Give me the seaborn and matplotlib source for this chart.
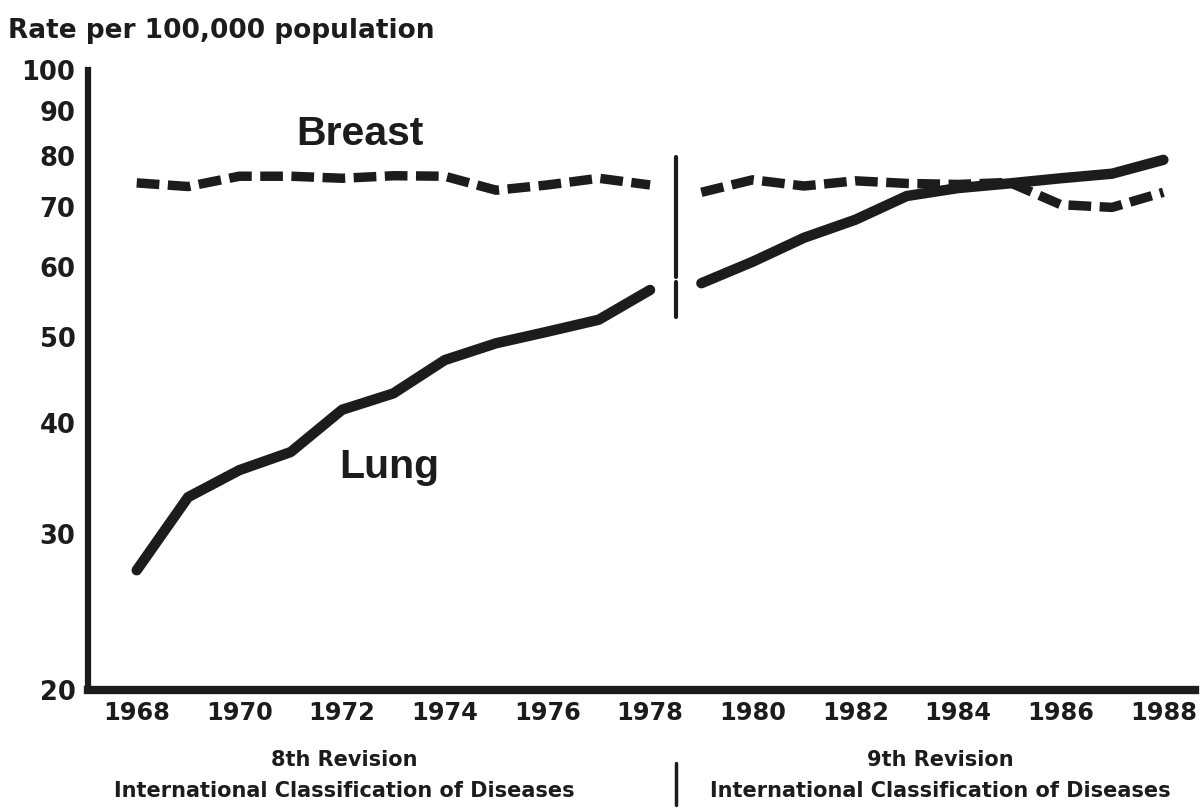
import matplotlib
matplotlib.use('Agg')
import matplotlib.pyplot as plt
import matplotlib.ticker as mticker
import matplotlib.transforms as mtrans
import seaborn as sns

# data
years_8th = [1968, 1969, 1970, 1971, 1972, 1973, 1974, 1975, 1976, 1977, 1978]
years_9th = [1979, 1980, 1981, 1982, 1983, 1984, 1985, 1986, 1987, 1988]

breast_8th = [74.6, 73.9, 75.9, 75.9, 75.5, 76.0, 75.9, 73.2, 74.2, 75.5, 74.2]
breast_9th = [72.8, 75.2, 74.0, 75.0, 74.5, 74.3, 74.7, 70.5, 70.0, 72.8]

lung_8th = [27.3, 33.0, 35.4, 37.1, 41.4, 43.2, 47.1, 49.2, 50.7, 52.3, 56.5]
lung_9th = [57.5, 60.8, 64.7, 67.8, 72.1, 73.6, 74.5, 75.5, 76.4, 79.2]

y_ticks = [20, 30, 40, 50, 60, 70, 80, 90, 100]
x_label_years = [1968, 1970, 1972, 1974, 1976, 1978, 1980, 1982, 1984, 1986, 1988]

ink = '#1c1c1c'

sns.set_style('white')
plt.rcParams['font.family'] = ['DejaVu Sans']
plt.rcParams['font.weight'] = 'bold'

fig = plt.figure(figsize=(12, 8.1), dpi=100)
ax = fig.add_axes([0.0733, 0.148, 0.9227, 0.7656])

for yrs, vals in [(years_8th, breast_8th), (years_9th, breast_9th)]:
    sns.lineplot(x=yrs, y=vals, ax=ax, color=ink, linewidth=6.8,
                 linestyle=(0, (2.4, 0.9)), solid_capstyle='butt')
for yrs, vals in [(years_8th, lung_8th), (years_9th, lung_9th)]:
    sns.lineplot(x=yrs, y=vals, ax=ax, color=ink, linewidth=7.5)

ax.set_yscale('log')
ax.set_ylim(20, 100)
ax.set_xlim(1967.05, 1988.62)
ax.yaxis.set_major_locator(mticker.FixedLocator(y_ticks))
ax.yaxis.set_minor_locator(mticker.NullLocator())
ax.set_yticklabels([str(v) for v in y_ticks])
ax.set_xticks(range(1968, 1989))
ax.set_xticklabels([str(y) if y in x_label_years else '' for y in range(1968, 1989)])

for s in ['top', 'right']:
    ax.spines[s].set_visible(False)
ax.spines['left'].set_linewidth(4.5)
ax.spines['bottom'].set_linewidth(6)
ax.spines['left'].set_color(ink)
ax.spines['bottom'].set_color(ink)

ax.tick_params(axis='y', direction='in', length=9, width=2.5, color=ink,
               labelsize=18.5, pad=9, labelcolor=ink)
ax.tick_params(axis='x', direction='in', length=10, width=2.5, color=ink,
               labelsize=17.3, pad=8, labelcolor=ink)

# break between ICD revisions
ax.plot([1978.5, 1978.5], [58.4, 79.8], color=ink, linewidth=3)
ax.plot([1978.5, 1978.5], [52.7, 57.7], color=ink, linewidth=3)
trans = mtrans.blended_transform_factory(ax.transData, ax.transAxes)
ax.plot([1978.5, 1978.5], [-0.118, -0.185], transform=trans, color=ink,
        linewidth=2.5, clip_on=False)

ax.text(1971.1, 82.3, 'Breast', fontsize=29.5, color=ink, fontweight='bold',
        family='Liberation Sans', va='baseline')
ax.text(1971.95, 34.7, 'Lung', fontsize=29.5, color=ink, fontweight='bold',
        family='Liberation Sans', va='baseline')

for cx, rev in [(1972.05, '8th Revision'), (1983.65, '9th Revision')]:
    ax.text(cx, -0.113, rev, transform=trans, ha='center', va='center',
            fontsize=15, color=ink)
    ax.text(cx, -0.163, 'International Classification of Diseases', transform=trans,
            ha='center', va='center', fontsize=15, color=ink)

fig.text(0.007, 0.962, 'Rate per 100,000 population', fontsize=19, color=ink,
         fontweight='bold', va='center')

fig.savefig('out.png', dpi=100)
